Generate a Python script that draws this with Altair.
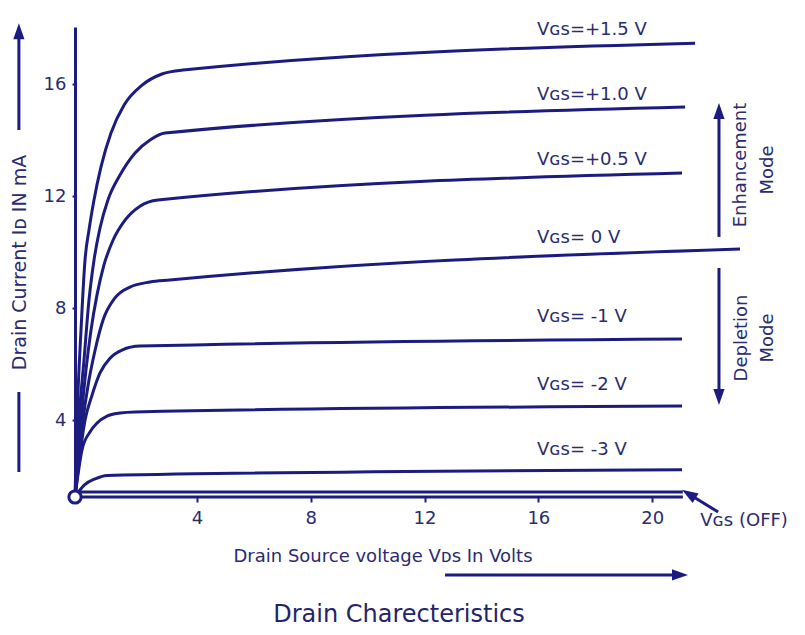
import altair as alt
import pandas as pd

NAVY = "#1c1c80"
TXT = "#2b2b70"
FONT = "DejaVu Sans"

# ---- curves: drain-source voltage (V) and drain current (mA)
vds_p15 = [0, 0.066, 0.197, 0.328, 0.459, 0.623, 0.852, 1.18, 1.61, 2.20, 2.85, 3.54, 21.51]
id_p15 = [0, 4.0, 7.21, 9.71, 10.79, 11.86, 13.04, 14.25, 15.25, 15.96, 16.36, 16.5, 17.46]
vds_p10 = [0, 0.13, 0.295, 0.459, 0.623, 0.82, 1.08, 1.475, 1.97, 2.46, 2.95, 21.16]
id_p10 = [0, 4.0, 6.14, 8.29, 9.71, 10.86, 11.86, 12.75, 13.54, 14.0, 14.25, 15.18]
vds_p05 = [0, 0.197, 0.36, 0.525, 0.72, 0.95, 1.25, 1.64, 2.13, 2.72, 21.05]
id_p05 = [0, 4.0, 5.79, 7.21, 8.46, 9.54, 10.43, 11.14, 11.64, 11.86, 12.82]
vds_0 = [0, 0.26, 0.43, 0.66, 0.92, 1.31, 1.80, 2.46, 3.11, 23.09]
id_0 = [0, 4.0, 5.25, 6.5, 7.57, 8.36, 8.75, 8.93, 9.0, 10.11]
vds_m1 = [0, 0.33, 0.56, 0.82, 1.15, 1.54, 2.13, 21.05]
id_m1 = [0, 4.0, 4.89, 5.68, 6.21, 6.5, 6.64, 6.89]
vds_m2 = [0, 0.23, 0.49, 0.72, 1.05, 1.48, 1.97, 21.05]
id_m2 = [0, 2.44, 3.38, 3.84, 4.14, 4.25, 4.29, 4.5]
vds_m3 = [0, 0.30, 0.66, 1.05, 21.05]
id_m3 = [0, 0.62, 0.94, 1.12, 1.42]
vds_off = [0, 21.08]
id_off = [0.26, 0.26]

series_names = ["+1.5", "+1.0", "+0.5", "0", "-1", "-2", "-3", "off"]
series_v = [vds_p15, vds_p10, vds_p05, vds_0, vds_m1, vds_m2, vds_m3, vds_off]
series_i = [id_p15, id_p10, id_p05, id_0, id_m1, id_m2, id_m3, id_off]

# ---- curve labels
label_text = ["Vɢꜱ=+1.5 V", "Vɢꜱ=+1.0 V", "Vɢꜱ=+0.5 V", "Vɢꜱ= 0 V",
              "Vɢꜱ= -1 V", "Vɢꜱ= -2 V", "Vɢꜱ= -3 V", "Vɢꜱ (OFF)"]
label_v = [15.95, 15.95, 15.95, 15.95, 15.95, 15.95, 15.95, 21.69]
label_i = [17.75, 15.43, 13.11, 10.32, 7.5, 5.07, 2.18, -1.51]

# ---- mode annotations (rotated)
mode_text = ["Enhancement", "Mode", "Depletion", "Mode"]
mode_v = [23.13, 24.08, 23.16, 24.08]
mode_i = [13.11, 12.93, 6.93, 6.93]

# ---- arrow shafts / baseline (from -> to)
shaft_v = [0, 22.35, 22.35, -1.84, -1.84, 12.72, 22.32]
shaft_i = [0, 10.54, 9.43, 14.36, 5.0, -4.05, -0.78]
shaft_v2 = [21.08, 22.35, 22.35, -1.84, -1.84, 20.70, 21.29]
shaft_i2 = [0, 14.9, 4.86, 17.64, 1.30, -4.05, 0.16]

# ---- arrow heads
head_v = [22.35, 22.35, -1.84, 20.98, 21.29]
head_i = [15.04, 4.82, 17.89, -4.05, 0.16]
head_angle = [0, 180, 0, 90, 302]

x_ticks = [4, 8, 12, 16, 20]
y_ticks = [4, 8, 12, 16]

curves = pd.DataFrame(
    [{"series": n, "v": v, "i": i}
     for n, vs, is_ in zip(series_names, series_v, series_i)
     for v, i in zip(vs, is_)]
)
labels = pd.DataFrame({"v": label_v, "i": label_i, "t": label_text})
modes = pd.DataFrame({"v": mode_v, "i": mode_i, "t": mode_text})
shafts = pd.DataFrame({"v": shaft_v, "i": shaft_i, "v2": shaft_v2, "i2": shaft_i2})
heads = pd.DataFrame({"v": head_v, "i": head_i, "ang": head_angle})
origin = pd.DataFrame({"v": [0], "i": [0]})
title_df = pd.DataFrame({"t": ["Drain Charecteristics"]})

W, H = 671, 470
xscale = alt.Scale(domain=[0, 4, 23.3], range=[0, 122, W], nice=False, zero=False)
yscale = alt.Scale(domain=[0, 4, 18.04], range=[H, 393, 0], nice=False, zero=False)

xaxis = alt.Axis(values=x_ticks, domain=False, grid=False, tickColor=NAVY, tickSize=5,
                 tickWidth=2, labelFont=FONT, labelFontSize=18, labelColor=TXT,
                 labelPadding=7, title="Drain Source voltage Vᴅꜱ In Volts",
                 titleX=158, titleY=64, titleAlign="left", titleBaseline="alphabetic",
                 titleFont=FONT, titleFontSize=18, titleFontWeight="normal", titleColor=TXT)
yaxis = alt.Axis(values=y_ticks, domain=True, domainColor=NAVY, domainWidth=3, grid=False,
                 tickColor=NAVY, tickSize=3, tickWidth=2, labelFont=FONT, labelFontSize=18,
                 labelColor=TXT, labelPadding=6, title="Drain Current Iᴅ IN mA",
                 titleAngle=270, titleX=-56, titleY=235, titleAlign="center",
                 titleBaseline="middle", titleFont=FONT, titleFontSize=19,
                 titleFontWeight="normal", titleColor=TXT)

X = alt.X("v:Q", scale=xscale, axis=xaxis)
Y = alt.Y("i:Q", scale=yscale, axis=yaxis)

lines = alt.Chart(curves).mark_line(color=NAVY, strokeWidth=3, interpolate="monotone").encode(
    x=X, y=Y, detail="series:N")

rules = alt.Chart(shafts).mark_rule(color=NAVY, strokeWidth=3).encode(
    x=X, y=Y, x2="v2:Q", y2="i2:Q")

arrow_path = "M-0.7,1 L0,-1 L0.7,1 Z"
arrowheads = alt.Chart(heads).mark_point(shape=arrow_path, filled=True, size=256,
                                        color=NAVY, opacity=1).encode(
    x=X, y=Y, angle=alt.Angle("ang:Q", scale=None))

circle = alt.Chart(origin).mark_point(shape="circle", size=150, filled=True, fill="white",
                                     stroke=NAVY, strokeWidth=3, opacity=1).encode(x=X, y=Y)

label_marks = alt.Chart(labels).mark_text(align="left", baseline="alphabetic", font=FONT,
                                          fontSize=18, color=TXT).encode(x=X, y=Y, text="t:N")

mode_marks = alt.Chart(modes).mark_text(align="center", baseline="middle", angle=270,
                                        font=FONT, fontSize=18, color=TXT).encode(
    x=X, y=Y, text="t:N")

title_mark = alt.Chart(title_df).mark_text(align="center", baseline="alphabetic", font=FONT,
                                           fontSize=24, color="#24246a").encode(
    x=alt.value(324), y=alt.value(595), text="t:N")

chart = alt.layer(lines, rules, arrowheads, circle, label_marks, mode_marks, title_mark).properties(
    width=W, height=H, autosize="none",
    padding={"left": 67, "top": 19, "right": 50, "bottom": 134},
).configure(background="white").configure_view(strokeWidth=0, stroke="transparent")

chart.save("out.html", embed_options={"renderer": "svg", "actions": False})
